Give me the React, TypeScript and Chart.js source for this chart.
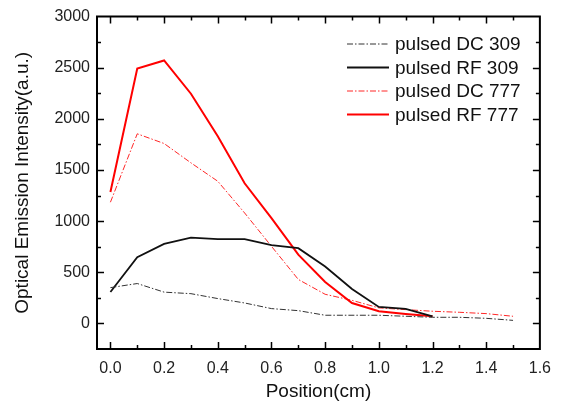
import React, { useEffect, useRef } from "react";
import { Chart, registerables } from "chart.js";

Chart.register(...registerables);

const positions = [0, 0.1, 0.2, 0.3, 0.4, 0.5, 0.6, 0.7, 0.8, 0.9, 1.0, 1.1, 1.2, 1.3, 1.4, 1.5];
const dc309 = [350, 390, 306, 291, 243, 200, 145, 125, 80, 80, 80, 70, 60, 60, 50, 30];
const rf309 = [308, 647, 778, 838, 825, 825, 765, 736, 556, 337, 161, 142, 70];
const dc777 = [1185, 1854, 1759, 1570, 1390, 1080, 754, 430, 285, 226, 152, 135, 119, 109, 96, 70];
const rf777 = [1285, 2493, 2571, 2246, 1831, 1370, 1030, 673, 405, 200, 119, 93, 70];

const seriesLabels = ["pulsed DC 309", "pulsed RF 309", "pulsed DC 777", "pulsed RF 777"];
const xTicks = [0, 0.2, 0.4, 0.6, 0.8, 1.0, 1.2, 1.4, 1.6];
const xMinorTicks = [0.1, 0.3, 0.5, 0.7, 0.9, 1.1, 1.3, 1.5];
const yTicks = [0, 500, 1000, 1500, 2000, 2500, 3000];
const yMinorTicks = [-250, 250, 750, 1250, 1750, 2250, 2750];

const FONT = "'Liberation Sans', Arial, sans-serif";

const toPoints = (vals: number[]) => vals.map((v, i) => ({ x: positions[i], y: v }));

const framePlugin = {
  id: "frameTicks",
  afterDatasetsDraw(chart: any) {
    const { ctx, chartArea } = chart;
    const xs = chart.scales.x;
    const ys = chart.scales.y;
    const { left, right, top, bottom } = chartArea;
    ctx.save();
    ctx.strokeStyle = "#000";
    ctx.lineWidth = 2;
    ctx.beginPath();
    ctx.rect(left, top, right - left, bottom - top);
    ctx.stroke();
    ctx.lineWidth = 1.5;
    const major = 7;
    const minor = 4;
    const drawX = (v: number, len: number) => {
      const px = Math.round(xs.getPixelForValue(v)) + 0.5;
      if (px < left + 1 || px > right - 1) return;
      ctx.beginPath();
      ctx.moveTo(px, bottom);
      ctx.lineTo(px, bottom - len);
      ctx.moveTo(px, top);
      ctx.lineTo(px, top + len);
      ctx.stroke();
    };
    const drawY = (v: number, len: number) => {
      const py = Math.round(ys.getPixelForValue(v)) + 0.5;
      if (py < top + 1 || py > bottom - 1) return;
      ctx.beginPath();
      ctx.moveTo(left, py);
      ctx.lineTo(left + len, py);
      ctx.moveTo(right, py);
      ctx.lineTo(right - len, py);
      ctx.stroke();
    };
    xTicks.forEach((v) => drawX(v, major));
    xMinorTicks.forEach((v) => drawX(v, minor));
    yTicks.forEach((v) => drawY(v, major));
    yMinorTicks.forEach((v) => drawY(v, minor));

    // legend
    const x0 = 347;
    const x1 = 389;
    chart.data.datasets.forEach((ds: any, i: number) => {
      const y = 44 + i * 23.5;
      ctx.save();
      ctx.strokeStyle = ds.borderColor;
      ctx.lineWidth = ds.borderWidth;
      ctx.setLineDash(ds.borderDash || []);
      ctx.beginPath();
      ctx.moveTo(x0, y);
      ctx.lineTo(x1, y);
      ctx.stroke();
      ctx.restore();
      ctx.fillStyle = "#111";
      ctx.font = `19px ${FONT}`;
      ctx.textBaseline = "middle";
      ctx.textAlign = "left";
      ctx.fillText(ds.label, 395, y + 1);
    });
    ctx.restore();
  },
};

export default function App() {
  const ref = useRef<HTMLCanvasElement>(null);
  useEffect(() => {
    if (!ref.current) return;
    const chart = new Chart(ref.current, {
      type: "line",
      data: {
        datasets: [
          {
            label: seriesLabels[0],
            data: toPoints(dc309),
            borderColor: "#333333",
            borderWidth: 1,
            borderDash: [6, 2, 1.5, 2],
          },
          {
            label: seriesLabels[1],
            data: toPoints(rf309),
            borderColor: "#111111",
            borderWidth: 1.8,
          },
          {
            label: seriesLabels[2],
            data: toPoints(dc777),
            borderColor: "rgba(255,0,0,0.85)",
            borderWidth: 1,
            borderDash: [6, 2, 1.5, 2],
          },
          {
            label: seriesLabels[3],
            data: toPoints(rf777),
            borderColor: "#ff0000",
            borderWidth: 2,
          },
        ],
      },
      options: {
        responsive: false,
        animation: false,
        parsing: false as any,
        layout: { padding: { top: 16, right: 13, left: 0, bottom: 0 } },
        elements: { point: { radius: 0 }, line: { tension: 0 } },
        plugins: { legend: { display: false }, tooltip: { enabled: false } },
        scales: {
          x: {
            type: "linear",
            min: -0.05,
            max: 1.6,
            grid: { display: false, drawTicks: false },
            border: { display: false },
            afterBuildTicks: (s: any) => {
              s.ticks = xTicks.map((v) => ({ value: v }));
            },
            afterFit: (s: any) => {
              s.height = 56;
            },
            ticks: {
              padding: 10,
              color: "#222",
              font: { family: FONT, size: 16 },
              callback: (v: any) => Number(v).toFixed(1),
            },
            title: {
              display: true,
              text: "Position(cm)",
              color: "#111",
              font: { family: FONT, size: 19 },
              padding: { top: 0, bottom: 2 },
            },
          },
          y: {
            type: "linear",
            min: -250,
            max: 3000,
            grid: { display: false, drawTicks: false },
            border: { display: false },
            afterBuildTicks: (s: any) => {
              s.ticks = yTicks.map((v) => ({ value: v }));
            },
            afterFit: (s: any) => {
              s.width = 97;
            },
            ticks: {
              padding: 7,
              color: "#222",
              font: { family: FONT, size: 16 },
              callback: (v: any) => String(v),
            },
            title: {
              display: true,
              text: "Optical Emission Intensity(a.u.)",
              color: "#111",
              font: { family: FONT, size: 19 },
              padding: { top: 11, bottom: 0 },
            },
          },
        },
      },
      plugins: [framePlugin],
    });
    return () => chart.destroy();
  }, []);
  return (
    <div style={{ position: "fixed", left: 0, top: 0, width: 561, height: 405, background: "#fff" }}>
      <canvas ref={ref} width={561} height={405} style={{ display: "block" }} />
    </div>
  );
}
